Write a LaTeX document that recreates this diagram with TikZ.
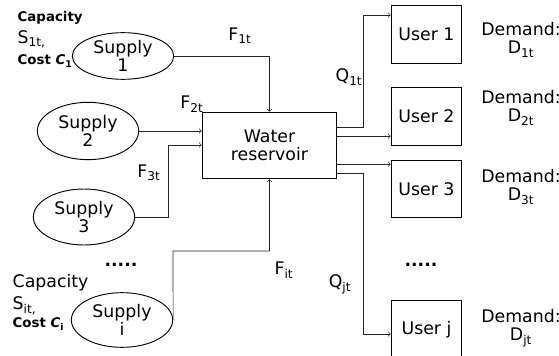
\documentclass[tikz,border=0pt]{standalone}
\usepackage{fontspec}
\setmainfont{DejaVu Sans}
\usetikzlibrary{shapes.geometric}

\tikzset{
	supply/.style={draw,ellipse,line width=0.7pt,align=center,inner sep=0pt,minimum width=76pt},
	user/.style={draw,rectangle,line width=0.7pt,minimum width=53pt,minimum height=43pt},
	flow/.style={->,line width=0.5pt,draw=black!85},
	every node/.style={font=\fontsize{13}{13.5}\selectfont},
	small/.style={font=\fontsize{10}{11}\selectfont\bfseries}
}

\begin{document}
\begin{tikzpicture}[x=0.75pt,y=-0.75pt]
%\draw[help lines] (0,0) grid (559,356);
\useasboundingbox (0,0) rectangle (559,356);

% supplies
\node[supply,minimum height=35pt] at (123,56) (sup1) {Supply\\1};
\node[supply,minimum height=43pt] at (88,131) (sup2) {Supply\\2};
\node[supply,minimum height=42pt] at (84,217) (sup3) {Supply\\3};
\node[supply,minimum height=41pt] at (122,320) (supi) {Supply\\i};

\node[draw,line width=0.7pt,align=center,minimum width=101pt,minimum height=50pt] at (269.5,145.5) (res) {Water\\reservoir};

% users
\node[user] at (426.5,34.5) (user1) {User 1};
\node[user] at (426.5,116.5) (user2) {User 2};
\node[user] at (426.5,189) (user3) {User 3};
\node[user] at (426.5,329.5) (userj) {User j};

\coordinate (j3) at (168,145);
\coordinate (ji) at (173,251);

% inflows
\draw[flow] (sup1.east) -| (res.north);
\draw[flow] (sup2.east) -- (sup2.east -| res.west);
\draw[flow] (sup3.east) -| (j3) -- (j3 -| res.west);
\draw[flow] (supi.east) -- (ji) -| (res.south);

% outflows
\draw[flow] ([yshift=14pt]res.east) -- ++(19.5pt,0) |- ([yshift=14.6pt]user1.west);
\draw[flow] ([yshift=7pt]res.east) -- ([yshift=7pt]res.east -| user2.west);
\draw[flow] ([yshift=-14pt]res.east) -- ([yshift=-14pt]res.east -| user3.west);
\draw[flow] ([yshift=-21pt]res.east) -- ++(19.5pt,0) |- ([yshift=-3.4pt]userj.west);

% flow labels
\node at (240,36) (f1) {F\textsubscript{1t}};
\node at (192,104) (f2) {F\textsubscript{2t}};
\node at (149,173) (f3) {F\textsubscript{3t}};
\node at (284,270) (fi) {F\textsubscript{it}};
\node at (349,77) (q1) {Q\textsubscript{1t}};
\node at (340,284) (qj) {Q\textsubscript{jt}};

% demands
\node[align=center] at (521,40) (d1) {Demand:\\D\textsubscript{1t}};
\node[align=center] at (521,108) (d2) {Demand:\\D\textsubscript{2t}};
\node[align=center] at (521,187) (d3) {Demand:\\D\textsubscript{3t}};
\node[align=center] at (521,328) (dj) {Demand:\\D\textsubscript{jt}};

\node at (121,265) (dotsl) {\textbf{.....}};
\node at (421,265) (dotsr) {\textbf{.....}};

% capacities
\node[small,anchor=west] at (13,18) (cap1) {Capacity};
\node[anchor=west] at (13,39) (s1) {S\textsubscript{1t,}};
\node[small,anchor=west] at (13,61) (c1) {Cost \textit{C}\textsubscript{1}};
\node[anchor=west] at (8,283) (capi) {Capacity};
\node[anchor=west] at (8,306) (si) {S\textsubscript{it,}};
\node[small,anchor=west] at (8,324) (ci) {Cost \textit{C}\textsubscript{i}};

\end{tikzpicture}
\end{document}
